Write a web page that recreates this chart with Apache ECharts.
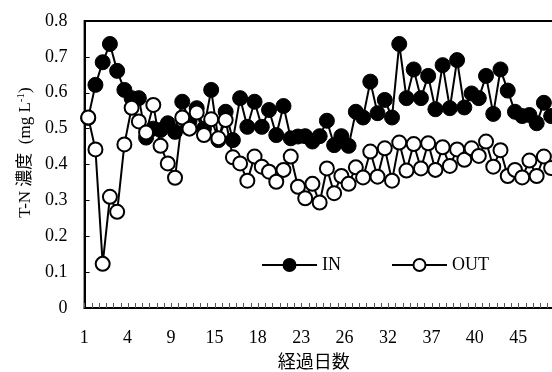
<!DOCTYPE html>
<html>
<head>
<meta charset="utf-8">
<script src="https://cdn.jsdelivr.net/npm/echarts@6/dist/echarts.min.js"></script>
<style>
  html, body { margin: 0; padding: 0; background: #fff; }
  #chart { width: 552px; height: 372px; }
</style>
</head>
<body>
<div id="chart"></div>
<script>
// Day labels shown under every 6th sample
const dayTicks = ['1', '4', '9', '15', '18', '23', '26', '32', '37', '40', '45'];

// T-N concentration (mg/L), one value per sample
const inValues = [
    0.53, 0.622, 0.685, 0.736, 0.661, 0.608, 0.585, 0.585, 0.475, 0.50,
    0.496, 0.515, 0.491, 0.575, 0.52, 0.557, 0.50, 0.608, 0.468, 0.547,
    0.468, 0.585, 0.505, 0.575, 0.505, 0.552, 0.482, 0.563, 0.473, 0.478,
    0.479, 0.464, 0.479, 0.522, 0.454, 0.479, 0.452, 0.547, 0.531, 0.631,
    0.543, 0.58, 0.531, 0.736, 0.585, 0.665, 0.585, 0.647, 0.554, 0.677,
    0.557, 0.691, 0.559, 0.598, 0.585, 0.647, 0.541, 0.665, 0.606, 0.547,
    0.535, 0.538, 0.515, 0.572, 0.535
];
const outValues = [
    0.531, 0.442, 0.123, 0.31, 0.268, 0.456, 0.558, 0.52, 0.489, 0.566,
    0.452, 0.403, 0.363, 0.531, 0.50, 0.545, 0.482, 0.526, 0.473, 0.524,
    0.42, 0.403, 0.355, 0.422, 0.394, 0.38, 0.352, 0.385, 0.422, 0.338,
    0.306, 0.346, 0.294, 0.389, 0.32, 0.368, 0.346, 0.392, 0.364, 0.436,
    0.366, 0.445, 0.355, 0.461, 0.383, 0.457, 0.389, 0.459, 0.385, 0.448,
    0.396, 0.442, 0.413, 0.445, 0.424, 0.464, 0.394, 0.44, 0.368, 0.385,
    0.364, 0.411, 0.368, 0.422, 0.39
];

const samples = inValues.map((v, i) => String(i));
const serif = "'Liberation Serif', 'Noto Sans CJK JP', serif";

const chart = echarts.init(document.getElementById('chart'));
chart.setOption({
    animation: false,
    textStyle: { fontFamily: serif, color: '#000' },
    // plot area runs past the right edge of the picture, like the cropped original
    grid: {
        left: 84.6, top: 21, bottom: 64, right: 552 - 84.6 - samples.length * 7.233,
        outerBoundsMode: 'none',
        show: true, borderColor: '#000', borderWidth: 2
    },
    legend: {
        left: 256, top: 251,
        itemWidth: 55, itemHeight: 15, itemGap: 50,
        textStyle: { fontFamily: serif, fontSize: 18, color: '#000' },
        data: ['IN', 'OUT']
    },
    xAxis: {
        type: 'category',
        data: samples,
        boundaryGap: true,
        name: '経過日数',
        nameLocation: 'middle',
        nameGap: 40,
        nameTextStyle: { fontFamily: "'Noto Sans CJK JP'", fontSize: 18, color: '#000', padding: [0, 12, 0, 0] },
        axisLine: { show: true, lineStyle: { color: '#000', width: 2 } },
        axisTick: { show: true, inside: true, length: 5, interval: 0, lineStyle: { color: '#555', width: 1 } },
        axisLabel: {
            interval: 0, margin: 21, fontSize: 18, color: '#000', padding: [0, 8, 0, 0],
            formatter: (v, i) => (i % 6 === 0 && dayTicks[i / 6]) ? dayTicks[i / 6] : ''
        },
        splitLine: { show: false }
    },
    yAxis: {
        type: 'value',
        min: 0, max: 0.8, interval: 0.1,
        name: '{a|T-N 濃度  (mg L}{s|-1}{a|)}',
        nameLocation: 'middle',
        nameGap: 50,
        nameTextStyle: {
            padding: [0, 0, 0, 24],
            rich: {
                a: { fontFamily: serif, fontSize: 17, color: '#000' },
                s: { fontFamily: serif, fontSize: 11, color: '#000', verticalAlign: 'top', padding: [0, 0, 8, 0] }
            }
        },
        axisLine: { show: true, lineStyle: { color: '#000', width: 2 } },
        axisTick: { show: true, inside: true, length: 5, lineStyle: { color: '#000', width: 1 } },
        axisLabel: {
            margin: 17, fontSize: 18, color: '#000',
            formatter: v => v === 0 ? '0' : v.toFixed(1)
        },
        splitLine: { show: false }
    },
    series: [
        {
            name: 'IN', type: 'line', data: inValues,
            symbol: 'circle', symbolSize: 15,
            lineStyle: { color: '#000', width: 2 },
            itemStyle: { color: '#000', borderColor: '#000', borderWidth: 1 }
        },
        {
            name: 'OUT', type: 'line', data: outValues,
            symbol: 'circle', symbolSize: 14,
            lineStyle: { color: '#000', width: 2 },
            itemStyle: { color: '#fff', borderColor: '#000', borderWidth: 2 }
        }
    ]
});
</script>
</body>
</html>
